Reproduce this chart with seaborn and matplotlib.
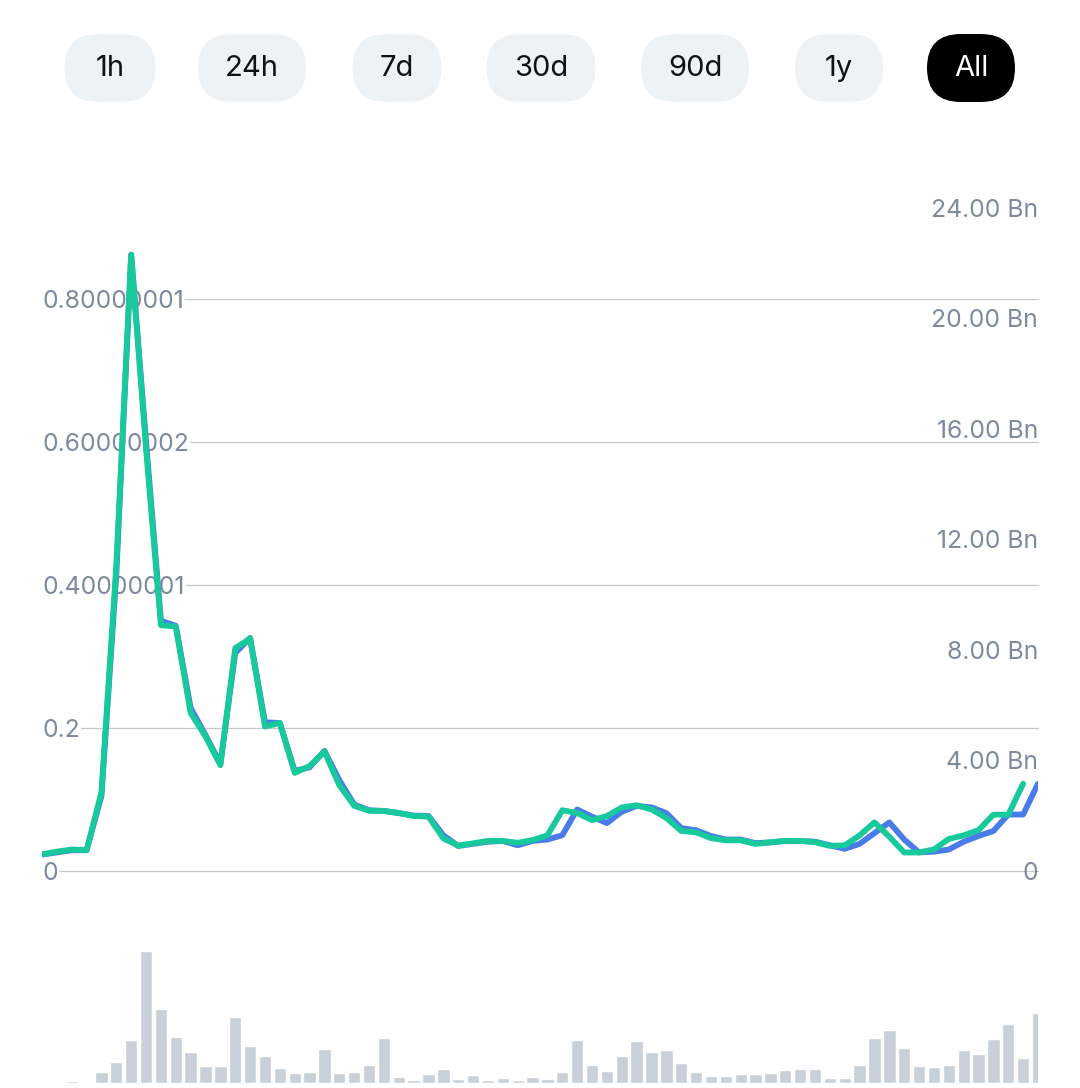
import numpy as np
import pandas as pd
import seaborn as sns
import matplotlib.pyplot as plt
from matplotlib.patches import FancyBboxPatch

# =========================
# DATA
# =========================
ranges = ["1h", "24h", "7d", "30d", "90d", "1y", "All"]
active_range = "All"

# price, left axis
price = [0.023, 0.026, 0.029, 0.029, 0.105, 0.415, 0.862, 0.600, 0.350, 0.343,
         0.228, 0.190, 0.150, 0.305, 0.326, 0.208, 0.207, 0.140, 0.145, 0.168,
         0.127, 0.093, 0.085, 0.084, 0.081, 0.0775, 0.077, 0.050, 0.035, 0.038,
         0.041, 0.042, 0.036, 0.042, 0.044, 0.050, 0.086, 0.076, 0.067, 0.083,
         0.091, 0.089, 0.081, 0.060, 0.057, 0.049, 0.044, 0.044, 0.039, 0.040,
         0.042, 0.042, 0.041, 0.036, 0.031, 0.038, 0.053, 0.068, 0.044, 0.026,
         0.027, 0.030, 0.041, 0.049, 0.056, 0.079, 0.079, 0.122]

# market cap in Bn, right axis (one point shorter)
market_cap = [0.60, 0.70, 0.78, 0.75, 2.85, 11.08, 22.31, 15.27, 8.90, 8.85,
              5.72, 4.87, 3.83, 8.07, 8.41, 5.23, 5.36, 3.55, 3.80, 4.32,
              3.11, 2.36, 2.18, 2.17, 2.10, 1.99, 1.97, 1.18, 0.92, 1.00,
              1.09, 1.09, 1.02, 1.12, 1.29, 2.20, 2.10, 1.84, 1.99, 2.30,
              2.38, 2.23, 1.92, 1.45, 1.40, 1.19, 1.11, 1.11, 0.98, 1.04,
              1.09, 1.09, 1.04, 0.91, 0.93, 1.29, 1.76, 1.24, 0.67, 0.67,
              0.78, 1.16, 1.29, 1.48, 2.04, 2.04, 3.16]

# volume (relative units)
volume = [3, 3, 7, 4, 34, 64, 130, 397, 223, 138,
          93, 52, 52, 197, 110, 82, 46, 29, 34, 102,
          30, 32, 55, 135, 19, 10, 28, 43, 13, 25,
          10, 14, 8, 19, 12, 34, 130, 54, 37, 82,
          126, 94, 99, 60, 34, 21, 21, 27, 27, 31,
          40, 43, 43, 16, 14, 55, 136, 160, 106, 52,
          48, 53, 100, 88, 133, 178, 74, 209]

price_ticks = [0, 0.2, 0.4, 0.6, 0.8]
price_labels = ["0", "0.2", "0.40000001", "0.60000002", "0.80000001"]
cap_ticks = [0, 4, 8, 12, 16, 20, 24]
cap_labels = ["0", "4.00 Bn", "8.00 Bn", "12.00 Bn", "16.00 Bn", "20.00 Bn", "24.00 Bn"]

# =========================
# STYLE
# =========================
sns.set_style("white")
plt.rcParams["font.family"] = ["Inter", "DejaVu Sans"]

blue = "#4A7BEB"
green = "#17C99B"
bar_color = "#CAD0D9"
grid_color = "#C4C8CF"
label_color = "#808A9D"
pill_color = "#EFF2F5"

W, H = 1080, 1088
fig = plt.figure(figsize=(W / 100, H / 100), dpi=100)

df_line = pd.DataFrame({"t": np.arange(len(price)), "price": price})
df_cap = pd.DataFrame({"t": np.arange(len(market_cap)), "cap": market_cap})
df_vol = pd.DataFrame({"t": np.arange(len(volume)), "vol": volume})
n_last = len(price) - 1

# =========================
# PRICE / MARKET CAP
# =========================
ax = fig.add_axes([42 / W, (H - 871) / H, 996 / W, 676 / H])
ax2 = ax.twinx()

sns.lineplot(data=df_line, x="t", y="price", ax=ax, color=blue,
             linewidth=4.2, solid_joinstyle="round")
sns.lineplot(data=df_cap, x="t", y="cap", ax=ax2, color=green,
             linewidth=4.2, solid_joinstyle="round")

top_price = 0.9455
cap_per_price = 25.88
ax.set_xlim(0, n_last)
ax.set_ylim(0, top_price)
ax2.set_ylim(0, top_price * cap_per_price)

ax.set_xticks([])
ax.set_xlabel("")
ax.set_ylabel("")
ax2.set_ylabel("")
ax.set_yticks(price_ticks, price_labels)
ax2.set_yticks(cap_ticks, cap_labels)

ax.grid(axis="y", color=grid_color, linewidth=0.9)
ax.grid(axis="x", visible=False)
ax2.grid(False)
for gl in ax.get_ygridlines():
    gl.set_clip_on(False)

ax.tick_params(axis="y", length=0, pad=0, labelsize=17.8, labelcolor=label_color)
ax2.tick_params(axis="y", length=0, pad=0, labelsize=17.8, labelcolor=label_color)
for t in ax.get_yticklabels():
    t.set_horizontalalignment("left")
    t.set_bbox(dict(facecolor="white", edgecolor="none", pad=1))
for t in ax2.get_yticklabels():
    t.set_horizontalalignment("right")

for a in (ax, ax2):
    for s in a.spines.values():
        s.set_visible(False)

# =========================
# VOLUME
# =========================
axv = fig.add_axes([42 / W, 5 / H, 996 / W, 138 / H])
sns.barplot(data=df_vol, x="t", y="vol", ax=axv, color=bar_color,
            width=0.83, saturation=1)
axv.set_xlim(0, n_last)
axv.set_ylim(0, max(volume) * 1.045)
axv.axis("off")

# =========================
# RANGE BUTTONS
# =========================
axb = fig.add_axes([0, 0, 1, 1])
axb.set_xlim(0, W)
axb.set_ylim(H, 0)
axb.axis("off")
axb.patch.set_alpha(0)

pill_centers = [110, 252, 397, 541, 695, 839, 971]
pill_widths = [91, 108, 89, 109, 108, 88, 88]
pill_h = 68
for name, cx, w in zip(ranges, pill_centers, pill_widths):
    active = name == active_range
    axb.add_patch(FancyBboxPatch((cx - w / 2, 68 - pill_h / 2), w, pill_h,
                                 boxstyle="round,pad=0,rounding_size=34",
                                 facecolor="black" if active else pill_color,
                                 edgecolor="none"))
    axb.text(cx, 69, name, ha="center", va="center", fontsize=21,
             color="white" if active else "#111111")

plt.savefig("out.png", dpi=100)
